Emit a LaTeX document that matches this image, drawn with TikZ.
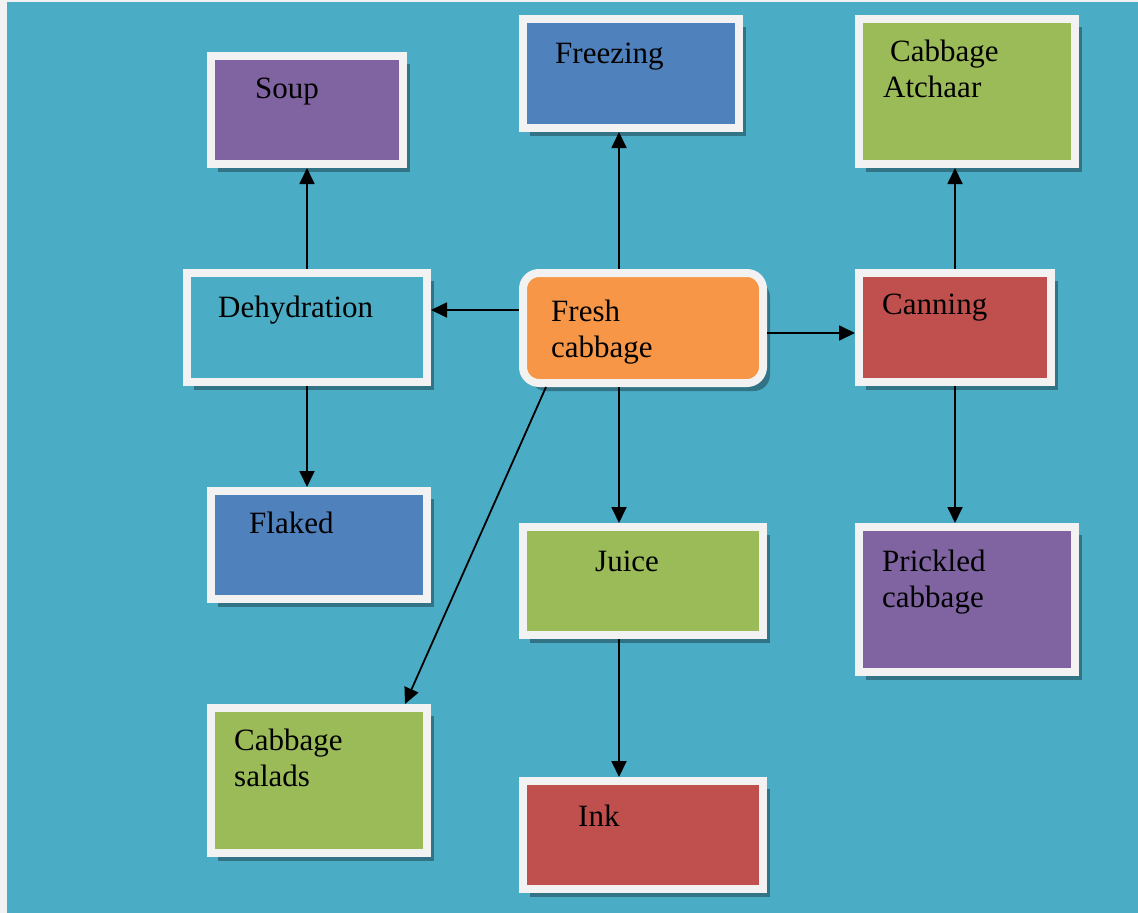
\documentclass[tikz,border=0pt]{standalone}
\usepackage{fontspec}
\setmainfont{Liberation Serif}
\usetikzlibrary{arrows.meta,shadows}
\definecolor{bgteal}{HTML}{4BACC6}
\definecolor{pagegrey}{HTML}{F2F2F2}
\definecolor{cpurple}{HTML}{8064A2}
\definecolor{cblue}{HTML}{4F81BD}
\definecolor{cgreen}{HTML}{9BBB59}
\definecolor{cred}{HTML}{C0504D}
\definecolor{corange}{HTML}{F79646}
\tikzset{
  boxstyle/.style={draw=pagegrey, line width=8pt, inner sep=0pt, outer sep=4pt,
    drop shadow={shadow xshift=7pt, shadow yshift=-8pt, fill=black, opacity=0.32}},
  lbl/.style={anchor=base west, inner sep=0pt, font=\fontsize{31}{36}\selectfont},
  arr/.style={line width=1.8pt, -{Triangle[length=16pt,width=15pt]}}
}
\newcommand{\twoline}[2]{\begin{tabular}[t]{@{}l@{}}#1\\#2\end{tabular}}
% place a box by its outer edges: x1 y1 x2 y2
\newcommand{\mybox}[6]{%
  \node[boxstyle, fill=#2, minimum width={#5-#3-8}, minimum height={#6-#4-8}] (#1) at ({(#3+#5)/2},{(#4+#6)/2}) {};}
\begin{document}
\begin{tikzpicture}[x=1pt,y=-1pt]
\useasboundingbox (0,0) rectangle (1138,913);
\fill[pagegrey] (0,0) rectangle (1138,913);
\fill[bgteal] (7,2) rectangle (1138,913);

\mybox{soup}{cpurple}{207}{52}{407}{168}
\mybox{freezing}{cblue}{519}{15}{743}{132}
\mybox{atchaar}{cgreen}{855}{15}{1079}{168}
\mybox{dehyd}{bgteal}{183}{269}{431}{386}
\node[boxstyle, fill=corange, rounded corners=16pt, minimum width=240, minimum height=110] (fresh) at (643,328) {};
\mybox{canning}{cred}{855}{269}{1055}{386}
\mybox{flaked}{cblue}{207}{487}{431}{603}
\mybox{juice}{cgreen}{519}{523}{767}{639}
\mybox{prickled}{cpurple}{855}{523}{1079}{676}
\mybox{salads}{cgreen}{207}{704}{431}{857}
\mybox{ink}{cred}{519}{777}{767}{893}

\node[lbl] (tsoup) at (255,98) {Soup};
\node[lbl] (tfreezing) at (555,63) {Freezing};
\node[lbl] (tatchaar1) at (890,61) {Cabbage};
\node[lbl] (tatchaar2) at (883,97) {Atchaar};
\node[lbl] (tdehyd) at (218,317) {Dehydration};
\node[lbl] (tfresh) at (551,321) {\twoline{Fresh}{cabbage}};
\node[lbl] (tcanning) at (882,314) {Canning};
\node[lbl] (tflaked) at (249,533) {Flaked};
\node[lbl] (tjuice) at (595,571) {Juice};
\node[lbl] (tprickled) at (882,571) {\twoline{Prickled}{cabbage}};
\node[lbl] (tsalads) at (234,750) {\twoline{Cabbage}{salads}};
\node[lbl] (tink) at (578,826) {Ink};

\coordinate (fN) at ([xshift=-24pt]fresh.north);
\coordinate (fS) at ([xshift=-24pt]fresh.south);
\coordinate (fW) at ([yshift=18pt]fresh.west);
\coordinate (fE) at ([yshift=-5pt]fresh.east);
\coordinate (jS) at ([xshift=-24pt]juice.south);

\draw[arr] (fN) -- (fN |- freezing.south);
\draw[arr] (fS) -- (fS |- juice.north);
\draw[arr] (fW) -- (fW -| dehyd.east);
\draw[arr] (fE) -- (fE -| canning.west);
\draw[arr] ([xshift=27pt]fresh.south west) -- ([xshift=-26pt]salads.north east);
\draw[arr] (jS) -- (jS |- ink.north);
\draw[arr] (dehyd.north) -- (dehyd.north |- soup.south);
\draw[arr] (dehyd.south) -- (dehyd.south |- flaked.north);
\draw[arr] (canning.north) -- (canning.north |- atchaar.south);
\draw[arr] (canning.south) -- (canning.south |- prickled.north);
\end{tikzpicture}
\end{document}
